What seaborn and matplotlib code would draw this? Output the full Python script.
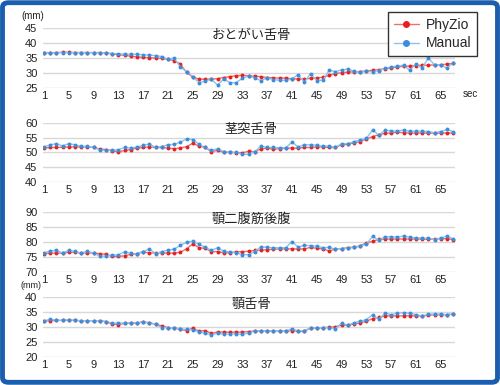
import matplotlib
matplotlib.use("Agg")
import matplotlib.pyplot as plt
import seaborn as sns
from matplotlib.patches import FancyBboxPatch
from matplotlib.lines import Line2D

seconds = list(range(1, 68))
x_ticks = list(range(1, 66, 4))

titles = ["おとがい舌骨", "茎突舌骨", "顎二腹筋後腹", "顎舌骨"]
y_ticks = [[25, 30, 35, 40, 45], [40, 45, 50, 55, 60], [70, 75, 80, 85, 90], [20, 25, 30, 35, 40]]
series_names = ["PhyZio", "Manual"]

p1_phyzio = [36.8,36.8,36.8,36.9,36.9,36.8,36.8,36.8,36.8,36.8,36.7,
             36.4,36.1,35.9,35.6,35.4,35.2,35.1,35.0,34.9,34.6,
             34.1,33.0,30.2,28.6,28.0,27.9,28.0,28.1,28.5,28.8,
             29.1,29.2,29.1,28.9,28.8,28.5,28.4,28.3,28.3,28.1,
             28.0,28.0,28.2,28.3,28.6,29.2,29.8,30.1,30.3,30.4,
             30.5,30.7,30.9,31.1,31.4,31.7,32.0,32.2,32.3,32.5,
             32.6,32.6,32.7,32.7,33.0,33.2]
p1_manual = [36.8,36.7,36.8,36.8,36.8,36.8,36.8,36.8,36.8,36.8,36.7,
             36.5,36.4,36.3,36.3,36.2,36.1,36.0,35.8,35.5,34.6,
             35.0,32.0,30.5,28.8,26.8,27.3,27.9,26.0,28.0,26.8,
             26.8,28.2,29.0,28.3,27.5,28.4,27.8,27.6,27.6,28.0,
             29.5,26.9,29.8,27.5,27.6,30.9,30.5,31.0,31.3,30.6,
             30.2,30.6,30.4,30.8,31.6,32.0,32.3,32.6,30.9,33.0,
             31.6,35.0,32.7,32.7,31.6,33.4]

p2_phyzio = [51.5,51.7,51.7,51.8,51.9,51.9,51.9,51.9,51.7,51.2,51.0,
             50.6,50.2,50.7,51.0,51.5,51.7,51.9,51.7,51.7,51.5,
             51.3,51.5,52.0,53.1,52.2,51.7,50.3,50.7,50.1,50.1,
             49.9,49.9,50.4,50.3,51.2,51.5,51.1,51.3,51.5,51.5,
             51.5,51.7,51.7,51.9,51.9,51.7,51.7,52.6,52.8,53.3,
             53.7,54.6,55.4,56.0,56.5,56.6,56.9,56.7,56.6,56.6,
             56.6,56.6,56.6,56.6,56.6,56.6]
p2_manual = [51.9,52.6,53.0,52.2,53.0,52.6,52.1,52.1,51.7,50.9,50.7,
             50.9,50.9,51.7,51.5,51.9,52.4,52.9,51.7,52.0,52.6,
             52.8,53.5,54.6,54.4,52.8,51.7,50.7,51.3,50.3,50.1,
             50.0,49.4,49.4,50.3,52.1,51.7,51.7,51.6,51.6,53.5,
             51.9,52.6,52.6,52.5,52.1,52.2,51.7,53.0,53.0,53.7,
             54.2,54.8,57.6,56.0,57.5,57.3,57.3,57.6,57.2,57.2,
             57.3,57.1,56.7,57.1,57.8,57.1]

p3_phyzio = [76.1,76.3,76.3,76.3,76.6,76.6,76.3,76.4,76.3,76.1,75.9,
             75.2,75.2,75.4,75.9,76.1,76.8,76.3,76.4,76.4,76.3,
             76.3,76.6,77.7,79.4,78.1,77.9,76.8,76.8,76.4,76.4,
             76.7,76.8,76.9,77.2,77.3,77.4,77.6,77.7,77.7,77.7,
             77.7,77.7,78.2,77.9,77.7,77.0,77.7,77.8,78.1,78.3,
             78.7,79.7,80.2,80.9,81.0,81.0,81.0,81.0,81.0,81.0,
             81.0,80.9,81.0,81.1,81.1,80.8]
p3_manual = [76.4,77.0,77.2,76.3,77.2,76.9,76.3,76.9,76.3,75.3,75.3,
             75.7,75.7,76.7,76.3,75.9,76.8,77.7,76.1,76.8,77.3,
             77.6,78.9,79.9,80.3,79.2,78.3,77.2,78.1,76.9,76.7,
             76.4,75.8,75.8,76.8,78.4,78.2,78.1,78.1,78.1,80.1,
             78.3,78.9,78.8,78.6,78.1,78.2,77.6,77.8,77.9,78.2,
             78.6,79.2,81.9,80.6,81.8,81.7,81.7,81.9,81.6,81.4,
             81.3,81.3,80.8,81.4,81.9,81.1]

p4_phyzio = [32.0,32.1,32.2,32.2,32.3,32.2,32.1,32.1,32.1,32.1,31.8,
             31.0,30.8,31.2,31.3,31.4,31.6,31.4,30.9,30.4,29.8,
             29.7,29.2,28.8,29.6,28.6,28.8,27.9,28.3,28.3,28.3,
             28.3,28.3,28.5,28.7,28.7,28.7,28.6,28.7,28.7,28.8,
             28.6,28.6,29.6,29.7,29.8,29.9,30.1,30.6,30.6,31.0,
             31.4,31.9,32.8,33.2,33.7,33.7,33.7,33.7,33.8,33.7,
             33.7,33.9,34.1,34.1,34.1,34.3]
p4_manual = [32.0,32.6,32.3,32.2,32.4,32.2,32.1,32.1,32.1,32.1,31.8,
             31.3,31.3,31.3,31.3,31.4,31.7,31.4,30.9,29.8,29.8,
             29.7,29.4,29.2,29.0,28.4,27.9,27.4,27.9,27.6,27.7,
             27.7,27.6,27.9,28.7,28.7,28.7,28.6,28.7,28.6,29.4,
             28.7,28.8,29.7,29.7,29.8,29.8,29.4,31.3,30.6,31.4,
             32.0,32.4,34.1,32.6,34.6,34.1,34.6,34.8,34.6,34.1,
             33.7,34.3,34.3,34.3,34.1,34.4]

phyzio_all = [p1_phyzio, p2_phyzio, p3_phyzio, p4_phyzio]
manual_all = [p1_manual, p2_manual, p3_manual, p4_manual]

sns.set_style("white")
plt.rcParams["font.family"] = ["Liberation Sans", "Noto Sans CJK JP", "DejaVu Sans"]

RED_LINE, RED_MK = "#f26d6d", "#e8201f"
BLUE_LINE, BLUE_MK = "#8ec2ec", "#3b8edb"
TXT = "#222222"

fig = plt.figure(figsize=(5.0, 3.85), dpi=100)
H = 385.0
panel_px = [(28, 88), (123, 182), (212, 272), (297, 357)]
left, width = 43 / 500, 412 / 500

for k, (top, bot) in enumerate(panel_px):
    ax = fig.add_axes([left, 1 - bot / H, width, (bot - top) / H])
    sns.lineplot(x=seconds, y=phyzio_all[k], ax=ax, color=RED_LINE, linewidth=1.0,
                 marker="o", markersize=2.8, markerfacecolor=RED_MK,
                 markeredgecolor=RED_MK, markeredgewidth=0, zorder=3)
    sns.lineplot(x=seconds, y=manual_all[k], ax=ax, color=BLUE_LINE, linewidth=1.0,
                 marker="o", markersize=2.8, markerfacecolor=BLUE_MK,
                 markeredgecolor=BLUE_MK, markeredgewidth=0, zorder=4)
    yt = y_ticks[k]
    ax.set_ylim(yt[0], yt[-1])
    ax.set_xlim(0.85, 67.3)
    ax.set_yticks(yt)
    ax.set_xticks(x_ticks)
    ax.set_xticklabels([str(v) for v in x_ticks])
    ax.grid(axis="y", color="#d8d8d8", linewidth=1.0)
    ax.set_axisbelow(True)
    for s in ax.spines.values():
        s.set_visible(False)
    ax.tick_params(axis="both", length=0, labelsize=8, colors=TXT)
    ax.tick_params(axis="y", pad=4)
    ax.tick_params(axis="x", pad=2)
    ax.set_xlabel("")
    ax.set_ylabel("")
    ax.text(0.505, 1 - 7 / (bot - top), titles[k], transform=ax.transAxes,
            ha="center", va="center", fontsize=9.5, color=TXT,
            family=["Noto Sans CJK JP", "DejaVu Sans"], zorder=5)

fig.text(33 / 500, 1 - 16 / H, "(mm)", ha="center", va="center", fontsize=7, color=TXT)
fig.text(31 / 500, 1 - 286 / H, "(mm)", ha="center", va="center", fontsize=6.5, color=TXT)
fig.text(463 / 500, 1 - 94 / H, "sec", ha="left", va="center", fontsize=7, color=TXT)

handles = [
    Line2D([], [], color=RED_LINE, linewidth=1.0, marker="o", markersize=4,
           markerfacecolor=RED_MK, markeredgecolor=RED_MK),
    Line2D([], [], color=BLUE_LINE, linewidth=1.0, marker="o", markersize=4,
           markerfacecolor=BLUE_MK, markeredgecolor=BLUE_MK),
]
leg = fig.legend(handles, series_names, loc="upper left", bbox_to_anchor=(388 / 500, 1 - 12 / H),
                 frameon=True, fancybox=False, framealpha=1, edgecolor="#333333",
                 fontsize=10, handlelength=1.8, handletextpad=0.5,
                 borderpad=0.4, labelspacing=0.35, borderaxespad=0)
leg.get_frame().set_linewidth(1.0)
leg.set_zorder(10)

border = FancyBboxPatch((0.005, 0.007), 0.99, 0.986,
                        boxstyle="round,pad=0,rounding_size=0.012",
                        transform=fig.transFigure, fill=False,
                        edgecolor="#1b5eae", linewidth=3.5, zorder=20)
fig.patches.append(border)

fig.savefig("out.png", dpi=100)
